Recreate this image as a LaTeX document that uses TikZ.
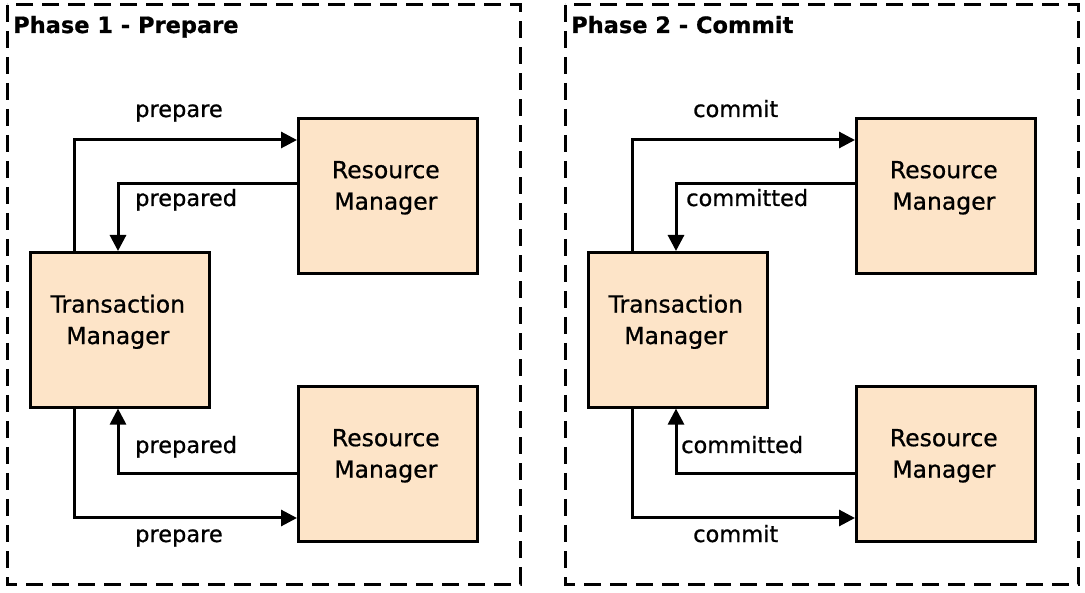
\documentclass[tikz,border=0pt]{standalone}
\usepackage{fontspec}
\setmainfont[FakeBold=0.8]{DejaVu Sans}
\usetikzlibrary{arrows.meta}
\definecolor{peach}{RGB}{253,228,200}
\begin{document}
\begin{tikzpicture}[x=1pt,y=-1pt,
  box/.style={draw=black,line width=2.6pt,fill=peach,minimum width=179pt,minimum height=155pt,anchor=north west,inner sep=0pt},
  boxtext/.style={align=center,font=\fontsize{23.5}{31.5}\selectfont,inner sep=0pt},
  lbl/.style={font=\fontsize{22.5}{26}\selectfont,anchor=base west,inner sep=0pt},
  ttl/.style={font=\bfseries\fontsize{22.5}{26}\selectfont,anchor=base west,inner sep=0pt},
  frame/.style={draw=black,line width=3pt,dash pattern=on 17pt off 9pt},
  arr/.style={draw=black,line width=3pt,-{Triangle[length=16pt,width=16pt]}}]
\useasboundingbox (0,0) rectangle (1085,593);
% frames
\draw[frame] (7,5) rectangle (520,584);
\draw[frame] (565,5) rectangle (1078,584);
\node[ttl] (t1) at (13,33) {Phase 1 - Prepare};
\node[ttl] (t2) at (571,33) {Phase 2 - Commit};
% ---- Phase 1
\node[box] (tmA) at (29,251) {};
\node[box] (rmA1) at (297,117) {};
\node[box] (rmA2) at (297,385) {};
\node[boxtext] (tmAt) at ([xshift=-2pt,yshift=8pt]tmA.center) {Transaction\\Manager};
\node[boxtext] (rmA1t) at ([xshift=-2pt,yshift=8pt]rmA1.center) {Resource\\Manager};
\node[boxtext] (rmA2t) at ([xshift=-2pt,yshift=8pt]rmA2.center) {Resource\\Manager};
\draw[arr] ([xshift=45pt]tmA.north west) |- ([yshift=-23pt]rmA1.north west);
\draw[arr] ([yshift=-67pt]rmA1.north west) -| ([xshift=89pt]tmA.north west);
\draw[arr] ([yshift=-89pt]rmA2.north west) -| ([xshift=89pt]tmA.south west);
\draw[arr] ([xshift=45pt]tmA.south west) |- ([yshift=-133pt]rmA2.north west);
\node[lbl] (lA1) at (135,117) {prepare};
\node[lbl] (lA2) at (135,206) {prepared};
\node[lbl] (lA3) at (135,453) {prepared};
\node[lbl] (lA4) at (135,542) {prepare};
% ---- Phase 2
\node[box] (tmB) at (587,251) {};
\node[box] (rmB1) at (855,117) {};
\node[box] (rmB2) at (855,385) {};
\node[boxtext] (tmBt) at ([xshift=-2pt,yshift=8pt]tmB.center) {Transaction\\Manager};
\node[boxtext] (rmB1t) at ([xshift=-2pt,yshift=8pt]rmB1.center) {Resource\\Manager};
\node[boxtext] (rmB2t) at ([xshift=-2pt,yshift=8pt]rmB2.center) {Resource\\Manager};
\draw[arr] ([xshift=45pt]tmB.north west) |- ([yshift=-23pt]rmB1.north west);
\draw[arr] ([yshift=-67pt]rmB1.north west) -| ([xshift=89pt]tmB.north west);
\draw[arr] ([yshift=-89pt]rmB2.north west) -| ([xshift=89pt]tmB.south west);
\draw[arr] ([xshift=45pt]tmB.south west) |- ([yshift=-133pt]rmB2.north west);
\node[lbl] (lB1) at (693,117) {commit};
\node[lbl] (lB2) at (686,206) {committed};
\node[lbl] (lB3) at (681,453) {committed};
\node[lbl] (lB4) at (693,542) {commit};
\end{tikzpicture}
\end{document}
